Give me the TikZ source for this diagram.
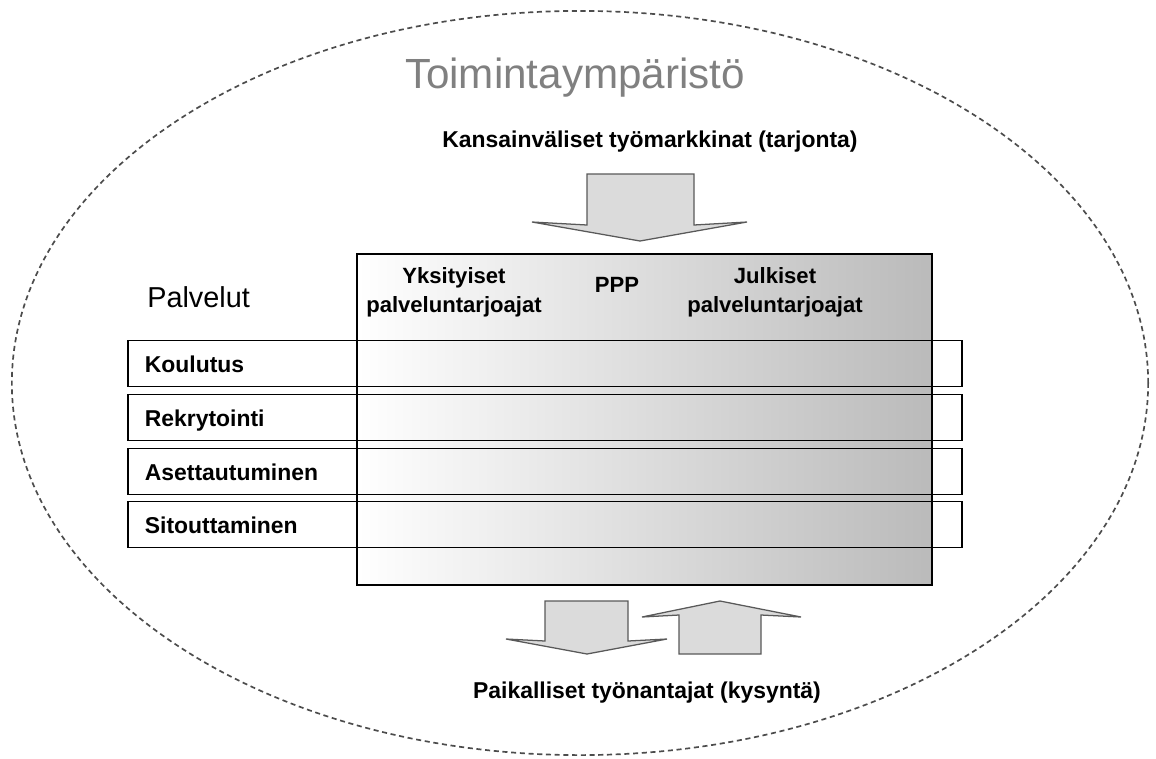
\documentclass[tikz,border=0pt]{standalone}
\usepackage{fontspec}
\setmainfont{Liberation Sans}

\tikzset{
  teksti/.style = {font=\bfseries\fontsize{16.3}{19}\selectfont, inner sep=0pt},
  sarake/.style = {font=\bfseries\fontsize{15.7}{20.5}\selectfont, align=center, inner sep=0pt},
  rivi/.style = {draw, line width=1.1pt, minimum height=1.15cm, text width=20cm, inner xsep=0.425cm,
    text height=0.45cm, text depth=0pt, align=left, font=\bfseries\fontsize{16.3}{19}\selectfont},
  nuoli/.style = {draw=black!65, fill=black!14, line width=0.9pt, line join=miter}
}

\begin{document}
\begin{tikzpicture}[x=0.025cm, y=-0.025cm]
\useasboundingbox (0,0) rectangle (1156,758);

\draw [black!70, line width=1.2pt, dash pattern=on 3.6pt off 2.6pt] (580,383) ellipse [x radius=14.2cm, y radius=9.3cm];

\node (Toimintaymparisto) at (575,88) [anchor=base, text=black!50, inner sep=0pt, font=\fontsize{30}{35}\selectfont] {Toimintaympäristö};

\node (Tarjonta) at (650,147) [anchor=base, teksti] {Kansainväliset työmarkkinat (tarjonta)};

\draw [nuoli] (587,174) -- (694,174) -- (694,225) -- (747,222) -- (640,241) -- (532,222) -- (587,225) -- cycle;

\node (Taulu) at (644.5,419.5) [draw, line width=1.1pt, minimum width=14.375cm, minimum height=8.275cm, inner sep=0pt, left color=white, right color=black!27] {};

\node (Palvelut) at (147,307) [anchor=base west, inner sep=0pt, font=\fontsize{20.5}{24}\selectfont] {Palvelut};

\node (Yksityiset) at (454,292) [sarake] {Yksityiset\\palveluntarjoajat};

\node (PPP) at (617,292) [anchor=base, sarake] {PPP};

\node (Julkiset) at (775,292) [sarake] {Julkiset\\palveluntarjoajat};

\node (Koulutus) at (545,363.5) [rivi] {Koulutus};

\node (Rekrytointi) at (545,417.5) [rivi] {Rekrytointi};

\node (Asettautuminen) at (545,471.5) [rivi] {Asettautuminen};

\node (Sitouttaminen) at (545,524.5) [rivi] {Sitouttaminen};

\draw [nuoli] (545,601) -- (628,601) -- (628,641) -- (667,639) -- (587,654) -- (506,639) -- (545,641) -- cycle;

\draw [nuoli] (679,654) -- (761,654) -- (761,615) -- (801,617) -- (720,601) -- (642,617) -- (679,615) -- cycle;

\node (Kysynta) at (647,698) [anchor=base, teksti] {Paikalliset työnantajat (kysyntä)};
\end{tikzpicture}
\end{document}
